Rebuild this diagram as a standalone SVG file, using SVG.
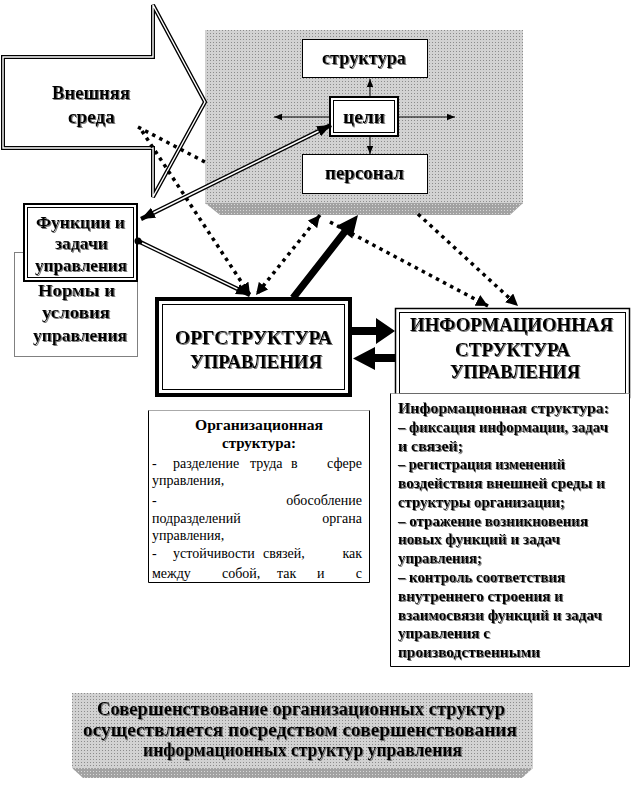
<svg xmlns="http://www.w3.org/2000/svg" width="633" height="785" viewBox="0 0 633 785">
<defs>
<style>
text { font-family: "Liberation Serif", "Times New Roman", serif; fill:#000; }
.b { font-weight:bold; }
.c { text-anchor:middle; }
.e { text-anchor:end; }
.sh { filter:url(#sh); }
.dot { fill:none; stroke:#000; stroke-width:3.5; stroke-dasharray:3.5 4.5; }
.thin { fill:none; stroke:#000; stroke-width:1; }
.dbl { fill:none; stroke:#000; stroke-width:4.2; }
.dblin { fill:none; stroke:#fff; stroke-width:1.6; }
.wb { fill:#fff; stroke:#000; }
</style>
<filter id="sh" x="-5%" y="-20%" width="110%" height="140%">
<feDropShadow dx="1" dy="1" stdDeviation="0.3" flood-color="#777"/>
</filter>
<pattern id="face" width="3" height="3" patternUnits="userSpaceOnUse">
<rect width="3" height="3" fill="#d2d2d2"/><rect width="1" height="1" fill="#8c8c8c"/>
</pattern>
<pattern id="bev" width="3" height="3" patternUnits="userSpaceOnUse">
<rect width="3" height="3" fill="#a2a2a2"/><rect width="1" height="1" fill="#d8d8d8"/>
</pattern>
<marker id="ah" viewBox="0 0 10 10" refX="10" refY="5" markerWidth="8" markerHeight="8" markerUnits="userSpaceOnUse" orient="auto"><path d="M0,1 L10,5 L0,9 z"/></marker>
<marker id="ad" viewBox="0 0 10 10" refX="10" refY="5" markerWidth="12" markerHeight="12" markerUnits="userSpaceOnUse" orient="auto-start-reverse"><path d="M0,0 L10,5 L0,10 z"/></marker>
<marker id="am" viewBox="0 0 10 10" refX="10" refY="5" markerWidth="14" markerHeight="14" markerUnits="userSpaceOnUse" orient="auto-start-reverse"><path d="M0,1 L10,5 L0,9 z"/></marker>
<clipPath id="orgclip"><rect x="148" y="410" width="222" height="173"/></clipPath>
</defs>

<g id="gray-panel">
<rect x="205" y="30" width="318" height="174" fill="url(#face)"/>
<polygon points="205,203 523,203 510,215 220,215" fill="url(#bev)"/>
</g>

<g id="vneshnyaya-sreda">
<polygon points="3,57 153,57 153,5 205,102 153,197 153,148 3,148" fill="#fff" stroke="#000" stroke-width="4"/>
<polygon points="3,57 153,57 153,5 205,102 153,197 153,148 3,148" fill="none" stroke="#fff" stroke-width="1.4"/>
<text class="b c sh" x="91" y="99" font-size="18" textLength="78" lengthAdjust="spacingAndGlyphs">Внешняя</text>
<text class="b c sh" x="91.5" y="123" font-size="18" textLength="47" lengthAdjust="spacingAndGlyphs">среда</text>
</g>

<g id="struktura">
<rect class="wb" x="302.5" y="39.5" width="125" height="38"/>
<text class="b c sh" x="364" y="64" font-size="18" textLength="84" lengthAdjust="spacingAndGlyphs">структура</text>
</g>

<g id="personal">
<rect class="wb" x="302.5" y="154.5" width="125" height="39"/>
<text class="b c sh" x="364.5" y="179" font-size="18" textLength="79" lengthAdjust="spacingAndGlyphs">персонал</text>
</g>

<g id="tseli">
<rect x="330" y="97" width="68" height="39" fill="#fff" stroke="#000" stroke-width="2"/>
<rect x="333.5" y="100.5" width="61" height="32" fill="none" stroke="#000" stroke-width="1"/>
<text class="b c sh" x="364" y="123" font-size="18" textLength="42" lengthAdjust="spacingAndGlyphs">цели</text>
</g>

<g id="normy">
<rect x="14.5" y="252.5" width="123" height="104" fill="#fff" stroke="#000" stroke-width="1" stroke-dasharray="1 1"/>
<text class="b c sh" x="76.5" y="296" font-size="17" textLength="77" lengthAdjust="spacingAndGlyphs">Нормы и</text>
<text class="b c sh" x="76" y="318" font-size="17" textLength="68" lengthAdjust="spacingAndGlyphs">условия</text>
<text class="b c sh" x="80" y="341" font-size="17" textLength="94" lengthAdjust="spacingAndGlyphs">управления</text>
</g>

<g id="funktsii">
<rect x="24" y="204" width="113" height="77" fill="#fff" stroke="#000" stroke-width="2"/>
<rect x="27.5" y="207.5" width="106" height="70" fill="none" stroke="#000" stroke-width="1"/>
<text class="b c sh" x="80.5" y="228" font-size="17" textLength="89" lengthAdjust="spacingAndGlyphs">Функции и</text>
<text class="b c sh" x="81.5" y="249" font-size="17" textLength="53" lengthAdjust="spacingAndGlyphs">задачи</text>
<text class="b c sh" x="81" y="271" font-size="17" textLength="92" lengthAdjust="spacingAndGlyphs">управления</text>
</g>

<g id="orgstruktura">
<rect x="157" y="299" width="193" height="96" fill="#fff" stroke="#000" stroke-width="4"/>
<rect x="162.5" y="304.5" width="182" height="85" fill="none" stroke="#000" stroke-width="1"/>
<text class="b c sh" x="253.5" y="344" font-size="19" textLength="157" lengthAdjust="spacingAndGlyphs">ОРГСТРУКТУРА</text>
<text class="b c sh" x="256" y="368" font-size="19" textLength="132" lengthAdjust="spacingAndGlyphs">УПРАВЛЕНИЯ</text>
</g>

<g id="infostruktura">
<rect x="395.5" y="308.5" width="234" height="89" fill="#fff" stroke="#000" stroke-width="1.5"/>
<rect x="399.5" y="312.5" width="226" height="81" fill="none" stroke="#000" stroke-width="1"/>
<text class="b c sh" x="511.5" y="331" font-size="18" textLength="203" lengthAdjust="spacingAndGlyphs">ИНФОРМАЦИОННАЯ</text>
<text class="b c sh" x="512.5" y="356" font-size="18" textLength="115" lengthAdjust="spacingAndGlyphs">СТРУКТУРА</text>
<text class="b c sh" x="515" y="378" font-size="18" textLength="130" lengthAdjust="spacingAndGlyphs">УПРАВЛЕНИЯ</text>
</g>

<g id="org-text">
<rect x="148.5" y="410.5" width="221" height="172" fill="#fff"/>
<path d="M148.5,410.5 V582.5 H369.5 V410.5" fill="none" stroke="#000" stroke-width="1"/>
<line x1="148.5" y1="410.5" x2="369.5" y2="410.5" stroke="#555" stroke-width="1" stroke-dasharray="1 1"/>
<g clip-path="url(#orgclip)" font-size="14">
<text class="b c" x="259" y="430" font-size="15" textLength="128" lengthAdjust="spacingAndGlyphs">Организационная</text>
<text class="b c" x="259" y="448" font-size="15">структура:</text>
<text x="152" y="468">-</text><text x="173" y="468">разделение</text><text x="250" y="468">труда</text><text x="291" y="468">в</text><text class="e" x="362" y="468">сфере</text>
<text x="152" y="485">управления,</text>
<text x="152" y="505">-</text><text class="e" x="362" y="505">обособление</text>
<text x="152" y="523">подразделений</text><text class="e" x="362" y="523">органа</text>
<text x="152" y="540">управления,</text>
<text x="152" y="558">-</text><text x="173" y="558">устойчивости</text><text x="263" y="558">связей,</text><text class="e" x="362" y="558">как</text>
<text x="152" y="578">между</text><text x="222" y="578">собой,</text><text x="277" y="578">так</text><text x="317" y="578">и</text><text class="e" x="362" y="578">с</text>
</g>
</g>

<g id="info-text">
<rect x="390.5" y="393.5" width="239" height="273" fill="#fff"/>
<path d="M390.5,393.5 V666.5 H629.5 V393.5" fill="none" stroke="#000" stroke-width="1"/>
<line x1="390.5" y1="393.5" x2="629.5" y2="393.5" stroke="#555" stroke-width="1" stroke-dasharray="1 1"/>
<g class="b sh" font-size="15">
<text x="398" y="413" textLength="211" lengthAdjust="spacingAndGlyphs">Информационная структура:</text>
<text x="398" y="431.8" textLength="210" lengthAdjust="spacingAndGlyphs">– фиксация  информации, задач</text>
<text x="398" y="450.5" textLength="65" lengthAdjust="spacingAndGlyphs">и связей;</text>
<text x="398" y="469.3" textLength="167" lengthAdjust="spacingAndGlyphs">– регистрация изменений</text>
<text x="398" y="488.1" textLength="207" lengthAdjust="spacingAndGlyphs">воздействия внешней среды и</text>
<text x="398" y="506.9" textLength="167" lengthAdjust="spacingAndGlyphs">структуры  организации;</text>
<text x="398" y="525.6" textLength="190" lengthAdjust="spacingAndGlyphs">– отражение возникновения</text>
<text x="398" y="544.4" textLength="162" lengthAdjust="spacingAndGlyphs">новых функций и задач</text>
<text x="398" y="563.2" textLength="84" lengthAdjust="spacingAndGlyphs">управления;</text>
<text x="398" y="581.9" textLength="167" lengthAdjust="spacingAndGlyphs">– контроль соответствия</text>
<text x="398" y="600.7" textLength="165" lengthAdjust="spacingAndGlyphs">внутреннего строения и</text>
<text x="398" y="619.5" textLength="204" lengthAdjust="spacingAndGlyphs">взаимосвязи функций и задач</text>
<text x="398" y="638.2" textLength="92" lengthAdjust="spacingAndGlyphs">управления с</text>
<text x="398" y="657" textLength="142" lengthAdjust="spacingAndGlyphs">производственными</text>
</g>
</g>

<g id="conclusion">
<rect x="72" y="693" width="461" height="75" fill="url(#face)"/>
<polygon points="72,768 533,768 522,778 83,778" fill="url(#bev)"/>
<text class="b c sh" x="301" y="715" font-size="18" textLength="408" lengthAdjust="spacingAndGlyphs">Совершенствование организационных структур</text>
<text class="b c sh" x="300" y="736" font-size="18" textLength="434" lengthAdjust="spacingAndGlyphs">осуществляется посредством совершенствования</text>
<text class="b c sh" x="302.5" y="756" font-size="18" textLength="319" lengthAdjust="spacingAndGlyphs">информационных структур управления</text>
</g>

<g id="connectors">
<line class="thin" x1="330" y1="117" x2="274" y2="117" marker-end="url(#ah)"/>
<line class="thin" x1="398" y1="117" x2="455" y2="117" marker-end="url(#ah)"/>
<line class="thin" x1="370" y1="97" x2="370" y2="79" marker-end="url(#ah)"/>
<line class="thin" x1="370" y1="136" x2="370" y2="154" marker-end="url(#ah)"/>

<line class="dot" x1="138" y1="127" x2="205" y2="162"/>
<line class="dot" x1="142" y1="131" x2="250" y2="295" marker-end="url(#ad)"/>
<line class="dot" x1="320" y1="215" x2="256" y2="295" marker-start="url(#ad)" marker-end="url(#ad)"/>
<line class="dot" x1="330" y1="222" x2="488" y2="306" marker-end="url(#ad)"/>
<line class="dot" x1="418" y1="214" x2="518" y2="306" marker-end="url(#ad)"/>

<line class="dbl" x1="331" y1="125" x2="141" y2="219" marker-start="url(#am)" marker-end="url(#am)"/>
<line class="dblin" x1="318.5" y1="131.2" x2="153.5" y2="212.8"/>
<circle cx="138" cy="241" r="3.5" fill="#000"/>
<line class="dbl" x1="138" y1="241" x2="250" y2="295" marker-end="url(#am)"/>
<line class="dblin" x1="142" y1="243" x2="237.4" y2="288.9"/>

<polygon points="290.2,295.8 341.6,230.1 336.5,226.1 358,215 352.3,238.5 347.2,234.5 295.8,300.2" fill="#000"/>
<polygon points="352,327 376,327 376,318 395,331 376,344 376,335 352,335" fill="#000"/>
<polygon points="395,354 375,354 375,347 353,358.5 375,370 375,362 395,362" fill="#000"/>
</g>
</svg>
